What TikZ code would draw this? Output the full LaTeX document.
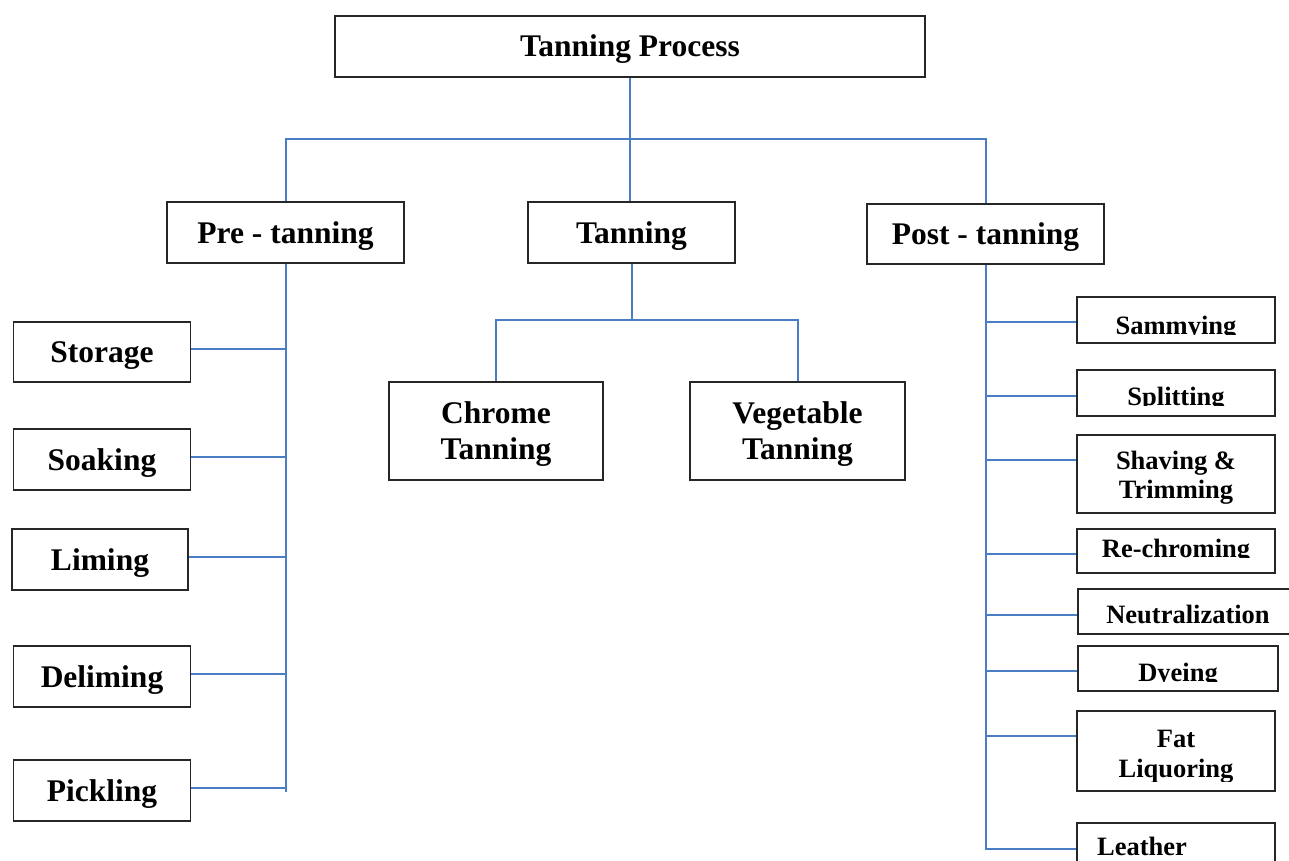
\documentclass[tikz,border=0pt]{standalone}
\usepackage{fontspec}
\setmainfont{Liberation Serif}
\definecolor{linkblue}{HTML}{4A7EC4}
\tikzset{
  box/.style={draw=black!85, line width=1.3pt, rectangle, inner sep=0pt,
    text height=21pt, text depth=0pt,
    font=\bfseries\fontsize{31.5}{37}\selectfont},
  rbox/.style={draw=black!85, line width=1.3pt, rectangle, inner sep=0pt},
  btxt/.style={anchor=base, inner sep=0pt, font=\bfseries\fontsize{31.5}{37}\selectfont},
  rtxt/.style={anchor=base, inner sep=0pt, font=\bfseries\fontsize{26.5}{25}\selectfont},
  link/.style={draw=linkblue, line width=2pt},
}
\begin{document}
\begin{tikzpicture}[x=1pt,y=-1pt]
\clip (0,0) rectangle (1289,861);
\fill[white] (0,0) rectangle (1289,861);
% top level
\node[box, minimum width=590, minimum height=61] (tp) at (630,46.5) {Tanning Process};
\node[box, minimum width=237, minimum height=61] (pre) at (285.5,232.5) {Pre - tanning};
\node[box, minimum width=207, minimum height=61] (tan) at (631.5,232.5) {Tanning};
\node[box, minimum width=237, minimum height=60] (post) at (985.5,234) {Post - tanning};
% pre-tanning children
\node[box, minimum width=177, minimum height=60] (stor) at (102,352) {Storage};
\node[box, minimum width=177, minimum height=61] (soak) at (102,459.5) {Soaking};
\node[box, minimum width=176, minimum height=61] (lime) at (100,559.5) {Liming};
\node[box, minimum width=177, minimum height=61] (delim) at (102,676.5) {Deliming};
\node[box, minimum width=177, minimum height=61] (pick) at (102,790.5) {Pickling};
% tanning children
\node[rbox, minimum width=214, minimum height=98] (chrome) at (496,431) {};
\node[btxt] (chromet1) at (496,423) {Chrome};
\node[btxt] (chromet2) at (496,459) {Tanning};
\node[rbox, minimum width=215, minimum height=98] (veg) at (797.5,431) {};
\node[btxt] (vegt1) at (797.5,423) {Vegetable};
\node[btxt] (vegt2) at (797.5,459) {Tanning};
% post-tanning children (boxes)
\node[rbox, minimum width=198, minimum height=46] (samm) at (1176,320) {};
\node[rbox, minimum width=198, minimum height=46] (split) at (1176,393) {};
\node[rbox, minimum width=198, minimum height=78] (shav) at (1176,474) {};
\node[rbox, minimum width=198, minimum height=44] (rechr) at (1176,551) {};
\node[rbox, minimum width=220, minimum height=45] (neutr) at (1188,611.5) {};
\node[rbox, minimum width=200, minimum height=45] (dye) at (1178,668.5) {};
\node[rbox, minimum width=198, minimum height=80] (fat) at (1176,751) {};
\node[rbox, minimum width=198, minimum height=77] (leath) at (1176,861.5) {};
% texts, clipped as in the reference
\begin{scope}
  \clip (1077,297) rectangle (1275,334);
  \node[rtxt] (sammt) at (1176,334) {Sammying};
\end{scope}
\begin{scope}
  \clip (1077,370) rectangle (1275,405);
  \node[rtxt] (splitt) at (1176,405.5) {Splitting};
\end{scope}
\begin{scope}
  \clip (1077,435) rectangle (1275,503);
  \node[rtxt] (shavt) at (1176,469) {Shaving \&};
  \node[rtxt] (trimt) at (1176,498) {Trimming};
\end{scope}
\begin{scope}
  \clip (1077,529) rectangle (1275,557);
  \node[rtxt] (rechrt) at (1176,557) {Re-chroming};
\end{scope}
\node[rtxt] (neutrt) at (1188,623) {Neutralization};
\begin{scope}
  \clip (1078,646) rectangle (1278,681);
  \node[rtxt] (dyet) at (1178,681) {Dyeing};
\end{scope}
\begin{scope}
  \clip (1077,711) rectangle (1275,781);
  \node[rtxt] (fatt) at (1176,747) {Fat};
  \node[rtxt] (liqt) at (1176,777) {Liquoring};
\end{scope}
\node[rtxt] (leatht) at (1142,855) {Leather};
% connectors
\coordinate (hub) at (632,139);
\draw[link] (tp.south) -- (tp.south |- tan.north);
\draw[link] (pre.north) |- (hub) -| (post.north);
\coordinate (thub) at (632,320);
\draw[link] (tan.south) -- (tan.south |- thub);
\draw[link] (chrome.north) |- (thub) -| (veg.north);
% pre spine
\coordinate (pend) at (285.5,792);
\draw[link] (pre.south) -- (pend);
\draw[link] (stor.east) ++(0,-3) -- (285.5,349);
\draw[link] (soak.east) ++(0,-3) -- (285.5,456.5);
\draw[link] (lime.east) ++(0,-3) -- (285.5,556.5);
\draw[link] (delim.east) ++(0,-3) -- (285.5,673.5);
\draw[link] (pick.east) ++(0,-3) -- (285.5,787.5);
% post spine
\coordinate (qend) at (985.5,850);
\draw[link] (post.south) -- (qend);
\coordinate (bsamm) at (985.5,322);
\coordinate (bsplit) at (985.5,396);
\coordinate (bshav) at (985.5,460);
\coordinate (brechr) at (985.5,554);
\coordinate (bneutr) at (985.5,615);
\coordinate (bdye) at (985.5,671);
\coordinate (bfat) at (985.5,736);
\coordinate (bleath) at (985.5,849);
\draw[link] (bsamm) -- (bsamm -| samm.west);
\draw[link] (bsplit) -- (bsplit -| split.west);
\draw[link] (bshav) -- (bshav -| shav.west);
\draw[link] (brechr) -- (brechr -| rechr.west);
\draw[link] (bneutr) -- (bneutr -| neutr.west);
\draw[link] (bdye) -- (bdye -| dye.west);
\draw[link] (bfat) -- (bfat -| fat.west);
\draw[link] (bleath) -- (bleath -| leath.west);
\end{tikzpicture}
\end{document}
